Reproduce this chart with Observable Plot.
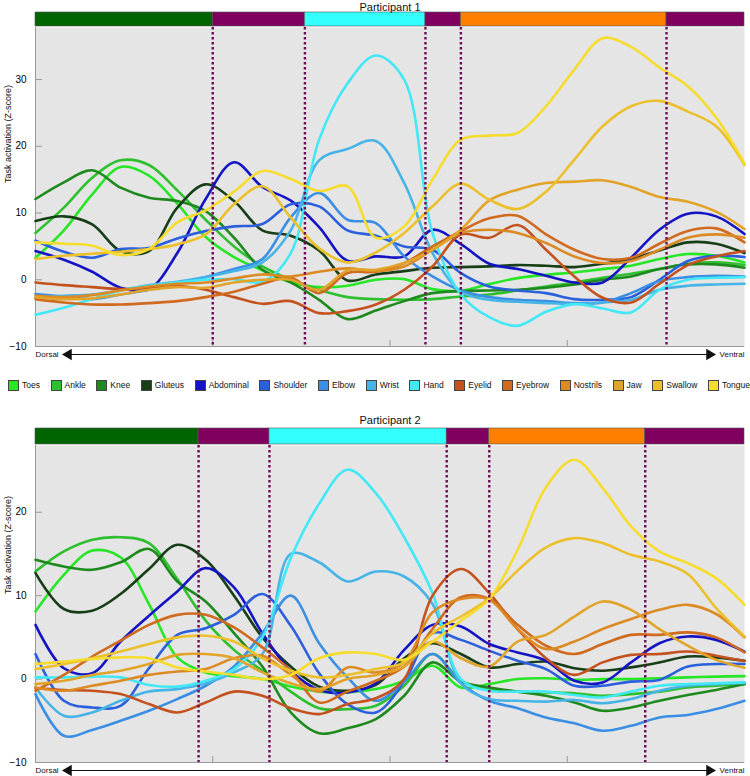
<!DOCTYPE html>
<html><head><meta charset="utf-8">
<script src="https://cdn.jsdelivr.net/npm/d3@7"></script>
<script src="https://cdn.jsdelivr.net/npm/@observablehq/plot@0.6"></script>
<style>
body{margin:0;background:#fff;font-family:"Liberation Sans",Arial,sans-serif;}
#legend{box-sizing:border-box;display:flex;justify-content:space-between;width:742px;margin-left:8px;height:46px;padding-top:15px;align-items:flex-start;font-size:8.5px;color:#111;}
.item{display:flex;align-items:center;gap:3px;height:12px;}
.sw{width:11px;height:11px;border:1px solid #444;box-sizing:border-box;}
</style></head><body>
<div id="p1"></div><div id="legend"></div><div id="p2"></div>
<script>
// ---- categories ----
const seriesNames = ["Toes","Ankle","Knee","Gluteus","Abdominal","Shoulder","Elbow","Wrist","Hand","Eyelid","Eyebrow","Nostrils","Jaw","Swallow","Tongue"];
const seriesColors = ["#26e626","#2fc02f","#1e8a1e","#173f17","#1414c4","#2b5fdc","#3a8ee4","#46b4e6","#43e8f6","#c4521e","#d06a1e","#dc8a24","#e2a428","#ecc02a","#f6dc2c"];
const xGrid = [0,4,8,12,16,20,24,28,32,36,40,44,48,52,56,60,64,68,72,76,80,84,88,92,96,100];
const yTicks = [-10,0,10,20,30];
const xTicks = [25,50,75];

// ---- Participant 1 ----
const toes1 = [3.3,7.4,12.8,16.9,15.6,11.4,6.4,3.4,1.4,-0.4,-1.1,-0.9,0.0,0.1,-1.4,-1.65,-0.65,0.25,0.75,1.1,1.6,2.1,3.1,3.85,3.6,2.6];
const ankle1 = [7.0,10.8,15.3,17.9,17.2,13.4,9.0,5.0,2.0,0.0,-1.5,-2.6,-2.9,-3.0,-2.9,-2.5,-2.2,-1.6,-1.0,-0.4,0.3,0.9,1.6,2.4,2.6,2.2];
const knee1 = [12.1,14.6,16.4,13.8,12.3,11.8,10.3,6.3,1.5,-0.4,-3.0,-5.9,-4.6,-3.2,-2.0,-1.7,-1.6,-1.5,-1.2,-0.7,0.0,0.5,1.6,2.3,2.3,1.8];
const gluteus1 = [8.8,9.5,8.3,4.3,4.3,10.8,14.3,11.8,7.4,6.6,4.4,-0.1,0.8,1.3,1.8,1.9,2.0,2.2,2.1,1.9,2.4,3.1,4.4,5.6,5.4,4.0];
const abdominal1 = [4.3,3.0,1.2,-1.2,-1.4,4.0,12.1,17.6,13.9,11.85,7.9,2.85,3.5,3.5,7.5,5.35,2.4,1.6,0.6,-0.4,-0.4,3.3,7.5,9.9,9.5,6.85];
const shoulder1 = [5.85,4.2,3.3,4.6,4.75,6.2,7.3,8.0,8.35,11.3,11.0,7.4,6.6,5.0,4.5,1.0,-1.0,-1.6,-2.0,-2.9,-3.0,-2.6,0.0,2.8,3.6,3.4];
const elbow1 = [-2.15,-2.5,-2.9,-2.2,-1.5,-0.6,0.4,1.6,3.1,9.35,13.0,9.0,8.5,3.5,0.5,-1.6,-2.6,-3.0,-3.2,-3.5,-3.4,-2.0,-0.2,0.4,0.6,0.5];
const wrist1 = [-2.65,-2.4,-2.2,-1.6,-0.8,-0.3,0.4,1.3,2.6,7.4,17.9,19.6,20.8,14.5,4.0,-1.8,-3.0,-3.3,-3.5,-3.6,-3.4,-3.0,-1.5,-0.9,-0.7,-0.6];
const hand1 = [-5.25,-4.2,-2.9,-1.6,-0.9,-0.4,0.0,0.1,-0.3,4.0,21.0,29.4,33.6,30.0,7.0,-2.2,-5.6,-6.9,-4.8,-3.65,-4.3,-4.9,-1.5,0.0,0.3,0.4];
const eyelid1 = [-0.4,-0.8,-1.1,-1.4,-1.2,-0.9,-1.5,-2.6,-3.6,-3.2,-5.0,-4.7,-3.7,-1.5,2.0,6.8,6.3,8.2,4.5,0.5,-2.7,-3.4,-0.6,2.2,3.5,4.3];
const eyebrow1 = [-2.9,-3.4,-3.7,-3.7,-3.5,-3.2,-2.6,-1.8,-0.6,0.3,-2.0,1.0,1.2,2.5,5.0,7.3,9.2,9.6,6.8,4.5,3.1,3.3,5.4,7.3,7.7,5.6];
const nostrils1 = [-2.4,-2.6,-2.3,-1.6,-1.0,-0.6,-0.4,0.2,0.8,0.5,1.2,1.7,1.3,2.0,4.5,7.0,7.5,7.0,5.5,3.5,2.5,2.8,4.5,6.3,6.8,6.3];
const jaw1 = [-2.6,-2.9,-2.8,-2.2,-1.5,-1.1,-1.2,-0.4,0.0,0.0,-1.5,1.4,1.5,2.5,4.5,7.5,11.9,13.5,14.5,14.7,14.9,13.9,12.4,11.7,10.2,7.6];
const swallow1 = [3.1,3.6,3.9,4.2,4.6,5.3,6.8,11.3,14.0,9.3,4.7,2.6,4.1,7.0,11.0,14.4,12.0,10.6,13.2,18.0,23.0,26.0,26.8,25.2,23.0,17.2];
const tongue1 = [5.6,5.4,5.1,3.7,4.6,8.6,10.4,13.2,16.3,15.1,13.3,14.0,6.3,8.0,15.0,21.0,21.6,22.0,26.0,31.5,36.2,34.9,31.8,29.0,24.3,17.4];
const bounds1 = [25,38,55,60,89];
const bandColors1 = ["#006400","#800060","#33ffff","#800060","#ff8000","#800060"];

// ---- Participant 2 ----
const toes2 = [8.1,12.5,15.4,14.6,9.0,2.6,0.8,0.35,0.0,-0.9,-1.5,-1.6,-1.2,-0.2,1.6,-1.0,-0.6,0.0,0.1,-0.1,0.0,0.0,0.1,0.2,0.3,0.35];
const ankle2 = [12.9,15.3,16.7,17.0,16.3,12.0,7.0,3.5,1.0,-1.5,-3.5,-3.6,-3.2,-0.8,3.0,-0.2,-1.2,-1.5,-1.6,-1.7,-2.0,-1.8,-1.5,-1.0,-0.8,-0.6];
const knee2 = [14.3,13.5,13.1,14.0,15.6,11.7,9.3,5.5,1.5,-4.0,-6.5,-5.9,-4.8,-2.0,2.0,-0.3,-1.0,-1.5,-2.0,-2.8,-3.8,-3.4,-2.6,-1.9,-1.3,-0.6];
const gluteus2 = [12.7,8.4,8.2,10.2,13.2,16.1,14.3,10.0,5.0,1.5,-0.9,-1.4,-0.7,2.5,4.3,3.0,1.4,1.8,2.1,1.3,1.0,1.4,2.0,2.7,2.6,2.2];
const abdominal2 = [6.5,1.3,0.7,4.5,7.6,10.5,13.3,11.0,5.5,1.0,-1.3,-1.6,-0.5,3.5,6.5,6.3,4.2,3.2,2.2,-0.2,-0.4,2.0,4.3,5.1,4.7,3.3];
const shoulder2 = [3.0,-2.6,-3.4,-3.2,1.3,5.3,6.1,7.7,10.2,6.4,0.7,-3.0,-4.0,-0.3,5.5,4.7,3.4,2.2,1.2,-0.8,-0.8,-0.3,-0.1,1.5,1.8,1.8];
const elbow2 = [-1.8,-6.8,-6.1,-5.0,-3.8,-2.4,-0.8,1.5,5.5,10.0,4.3,0.2,-2.6,-0.3,3.0,-0.5,-2.6,-3.5,-4.6,-5.3,-6.2,-5.6,-4.6,-4.3,-3.6,-2.6];
const wrist2 = [-1.0,-4.4,-4.0,-2.6,-1.5,-1.2,-0.5,0.8,3.0,15.0,14.0,11.7,12.9,12.3,9.0,-0.5,-2.4,-2.6,-2.7,-2.5,-2.9,-2.4,-1.4,-0.8,-0.6,-0.45];
const hand2 = [0.2,0.2,0.3,0.2,-0.7,-0.9,-0.2,1.2,5.0,14.5,21.0,25.1,22.3,17.0,10.3,0.0,-1.4,-1.5,-1.5,-1.9,-2.2,-1.5,-0.8,-0.6,-0.5,-0.4];
const eyelid2 = [-1.1,-1.3,-1.4,-1.8,-3.0,-4.0,-2.8,-1.5,-2.0,-3.5,-4.2,-3.0,-2.3,0.0,10.0,13.2,10.3,6.0,2.5,0.5,2.0,2.9,3.0,3.3,2.8,2.15];
const eyebrow2 = [-1.4,0.5,2.7,4.6,6.5,7.7,7.7,6.2,3.8,1.0,-2.8,-1.5,-0.2,1.5,6.0,9.8,9.6,6.5,4.0,3.0,4.2,5.3,5.3,5.6,5.0,3.2];
const nostrils2 = [-1.0,-1.4,-0.8,-0.2,0.5,0.9,1.2,2.5,2.8,0.5,-1.5,1.4,0.8,2.0,8.0,9.6,9.5,6.0,3.6,4.5,6.0,7.2,8.3,8.9,7.8,5.0];
const jaw2 = [-0.6,-0.2,0.5,1.0,1.8,2.9,3.0,2.5,0.8,-0.5,-1.2,0.0,0.5,1.5,4.5,2.5,1.5,4.5,5.3,7.5,9.3,8.3,6.0,4.0,2.3,1.35];
const swallow2 = [1.2,1.8,2.5,3.3,4.2,5.0,5.2,4.5,2.5,1.0,0.2,0.5,1.2,2.0,5.5,7.5,9.7,13.0,15.8,16.9,16.3,14.9,14.1,12.6,8.5,5.1];
const tongue2 = [1.8,2.1,2.4,2.6,2.5,1.4,0.9,0.5,0.0,0.5,2.5,3.2,3.0,2.3,4.5,7.0,9.6,15.5,23.0,26.3,22.9,18.3,15.3,13.9,12.1,8.9];
const bounds2 = [23,33,58,64,86];
const bandColors2 = ["#006400","#800060","#33ffff","#800060","#ff8000","#800060"];

const p1Values = [toes1,ankle1,knee1,gluteus1,abdominal1,shoulder1,elbow1,wrist1,hand1,eyelid1,eyebrow1,nostrils1,jaw1,swallow1,tongue1];
const p2Values = [toes2,ankle2,knee2,gluteus2,abdominal2,shoulder2,elbow2,wrist2,hand2,eyelid2,eyebrow2,nostrils2,jaw2,swallow2,tongue2];

function panel(cfg) {
  const W = 750, ML = 35, MR = 6;
  const pxY = (cfg.height - cfg.mt - cfg.mb) / (cfg.yMax - cfg.yMin);
  const pxX = (W - ML - MR) / 100;
  const uy = p => p / pxY, ux = p => p / pxX;
  const ticks = yTicks.filter(t => t >= cfg.yMin && t <= cfg.yMax);
  const rows = [];
  seriesNames.forEach((name, i) => cfg.values[i].forEach((v, j) => rows.push({series: name, x: xGrid[j], y: v})));
  const edges = [0, ...cfg.bounds, 100];
  const bandMarks = cfg.bandColors.map((c, i) =>
    Plot.rect([{x1: edges[i], x2: edges[i+1]}], {x1: "x1", x2: "x2", y1: cfg.yMax + uy(1), y2: cfg.yMax + uy(1 + cfg.bandH), fill: c, stroke: "#555", strokeWidth: 0.6}));
  const yArrow = cfg.yMin - uy(8);
  const xL = ux(33), xR = ux(674);
  return Plot.plot({
    width: W, height: cfg.height, marginLeft: ML, marginRight: MR, marginTop: cfg.mt, marginBottom: cfg.mb,
    style: {fontFamily: "Liberation Sans, Arial, sans-serif", fontSize: "10px", overflow: "visible", background: "white", display: "block"},
    x: {domain: [0, 100], axis: null},
    y: {domain: [cfg.yMin, cfg.yMax], ticks: ticks, tickSize: 0, tickPadding: 9, label: null},
    color: {domain: seriesNames, range: seriesColors},
    marks: [
      Plot.frame({fill: "#e5e5e5", stroke: null}),
      ...bandMarks,
      Plot.ruleY(ticks, {x1: 0, x2: ux(7), stroke: "#999"}),
      Plot.ruleX(xTicks, {y1: cfg.yMin, y2: cfg.yMin + uy(6), stroke: "#999"}),
      Plot.ruleX([0], {stroke: "#999"}),
      Plot.ruleY([cfg.yMin], {stroke: "#999"}),
      Plot.line(rows, {x: "x", y: "y", z: "series", stroke: "series", strokeWidth: 2.6, curve: "catmull-rom"}),
      Plot.ruleX(cfg.bounds, {stroke: "#6e0a55", strokeWidth: 2.4, strokeDasharray: "2.4,2.6"}),
      Plot.text([cfg.title], {x: 50, frameAnchor: "top", dy: cfg.titleDy, fontSize: 11, fill: "#111"}),
      Plot.text(["Task activation (Z-score)"], {frameAnchor: "left", dx: -27, dy: cfg.labelDy, rotate: -90, fontSize: 9, fill: "#111"}),
      Plot.ruleY([yArrow], {x1: xL, x2: xR, stroke: "#111", strokeWidth: 1}),
      Plot.dot([{x: xL, r: -90}, {x: xR, r: 90}], {x: "x", y: yArrow, rotate: "r", symbol: "triangle", r: 4.2, fill: "#111", stroke: null}),
      Plot.text(["Dorsal"], {x: 0, y: yArrow, textAnchor: "start", fontSize: 8, fill: "#111"}),
      Plot.text(["Ventral"], {x: 100, y: yArrow, textAnchor: "end", fontSize: 8, fill: "#111"})
    ]
  });
}

document.getElementById("p1").append(panel({
  values: p1Values, bounds: bounds1, bandColors: bandColors1, title: "Participant 1",
  height: 364, mt: 27, mb: 18, yMin: -10, yMax: 37.8, bandH: 14, titleDy: -24, labelDy: -4
}));

const legend = document.getElementById("legend");
seriesNames.forEach((n, i) => {
  const it = document.createElement("div"); it.className = "item";
  const sw = document.createElement("div"); sw.className = "sw"; sw.style.background = seriesColors[i];
  const tx = document.createElement("span"); tx.textContent = n;
  it.append(sw, tx); legend.append(it);
});

document.getElementById("p2").append(panel({
  values: p2Values, bounds: bounds2, bandColors: bandColors2, title: "Participant 2",
  height: 366, mt: 35, mb: 14, yMin: -10, yMax: 28, bandH: 16, titleDy: -29, labelDy: -10
}));
</script></body></html>
